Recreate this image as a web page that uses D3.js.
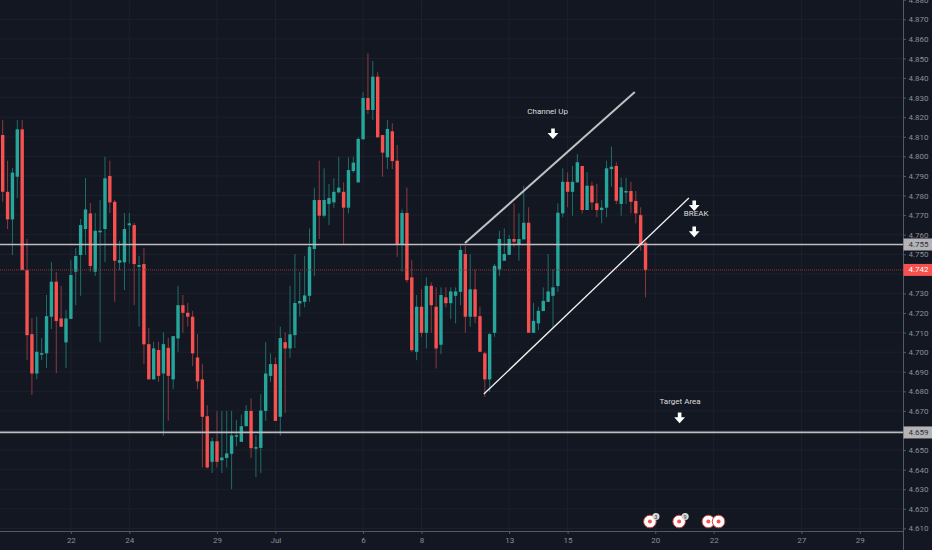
<!DOCTYPE html>
<html>
<head>
<meta charset="utf-8">
<script src="https://cdn.jsdelivr.net/npm/d3@7"></script>
<style>
	html, body { margin: 0; padding: 0; background: #131722; overflow: hidden; }
	text { font-family: Roboto, "Open Sans", sans-serif; }
</style>
</head>
<body>
<div id="chart"></div>
<script>
// candle values, one entry per 4h bar
const upFlags = [
	0,0,1,1,0,0,0,1,1,1,
	1,0,0,1,1,1,1,1,0,1,
	1,1,0,0,1,1,1,0,1,0,
	0,1,0,1,0,1,1,0,0,0,
	0,0,0,1,0,1,1,1,1,1,
	1,0,1,1,1,1,0,1,0,1,
	1,1,1,1,1,0,1,1,1,1,
	0,1,1,1,1,0,1,0,0,1,
	0,0,1,0,0,1,0,1,0,0,
	1,0,1,1,1,0,1,0,0,0,
	1,1,1,1,1,0,1,1,0,1,
	1,1,1,1,1,1,0,1,1,0,
	1,0,0,1,1,1,0,1,1,0,
	0,0,0,
];
const highs = [
	4.8186,4.7978,4.7941,4.8186,4.8186,4.7578,4.7174,4.7181,4.7072,4.7292,
	4.7460,4.7409,4.7339,4.7215,4.7470,4.7532,4.7680,4.7889,4.7762,4.7711,
	4.7777,4.7998,4.7978,4.7777,4.7569,4.7711,4.7711,4.7660,4.7491,4.7532,
	4.7123,4.7053,4.7053,4.7102,4.7073,4.7082,4.7339,4.7292,4.7252,4.7211,
	4.7092,4.6939,4.6729,4.6564,4.6700,4.6700,4.6700,4.6700,4.6653,4.6682,
	4.6729,4.6764,4.6576,4.6786,4.7051,4.6994,4.6973,4.7130,4.7101,4.7339,
	4.7501,4.7411,4.7491,4.7632,4.7840,4.7978,4.7939,4.7859,4.7888,4.7998,
	4.7867,4.7995,4.7998,4.8097,4.8327,4.8527,4.8487,4.8430,4.8109,4.8186,
	4.8169,4.8058,4.7729,4.7840,4.7470,4.7292,4.7321,4.7382,4.7356,4.7331,
	4.7331,4.7331,4.7331,4.7331,4.7547,4.7542,4.7501,4.7423,4.7232,4.7002,
	4.7099,4.7450,4.7620,4.7632,4.7598,4.7760,4.7709,4.7850,4.7740,4.7252,
	4.7232,4.7331,4.7501,4.7424,4.7760,4.7939,4.7919,4.7951,4.8012,4.7951,
	4.7919,4.7870,4.7859,4.7777,4.7978,4.8050,4.7970,4.7891,4.7891,4.7870,
	4.7823,4.7740,4.7567,
];
const bodyTops = [
	4.8109,4.7819,4.7917,4.8138,4.8138,4.7419,4.7092,4.7002,4.6995,4.7184,
	4.7360,4.7360,4.7172,4.7172,4.7394,4.7491,4.7649,4.7729,4.7709,4.7620,
	4.7620,4.7888,4.7900,4.7768,4.7470,4.7629,4.7658,4.7649,4.7445,4.7450,
	4.7041,4.7019,4.7011,4.7041,4.7022,4.7082,4.7240,4.7240,4.7201,4.7181,
	4.6973,4.6861,4.6673,4.6545,4.6545,4.6462,4.6483,4.6575,4.6576,4.6622,
	4.6700,4.6700,4.6515,4.6702,4.6891,4.6939,4.6939,4.7072,4.7051,4.7091,
	4.7251,4.7261,4.7290,4.7538,4.7777,4.7777,4.7777,4.7787,4.7819,4.7840,
	4.7819,4.7930,4.7968,4.8089,4.8298,4.8298,4.8407,4.8407,4.8109,4.8140,
	4.8128,4.7978,4.7711,4.7711,4.7382,4.7232,4.7232,4.7339,4.7339,4.7232,
	4.7292,4.7280,4.7310,4.7310,4.7522,4.7501,4.7321,4.7321,4.7184,4.6994,
	4.7092,4.7441,4.7578,4.7501,4.7578,4.7578,4.7578,4.7661,4.7661,4.7160,
	4.7211,4.7262,4.7310,4.7331,4.7712,4.7870,4.7870,4.7870,4.7970,4.7951,
	4.7850,4.7850,4.7760,4.7738,4.7939,4.7947,4.7951,4.7842,4.7823,4.7823,
	4.7772,4.7700,4.7559,
];
const bodyBottoms = [
	4.7819,4.7678,4.7678,4.7896,4.7419,4.7087,4.6891,4.6891,4.6990,4.6994,
	4.7181,4.7159,4.7130,4.7050,4.7170,4.7411,4.7496,4.7629,4.7440,4.7411,
	4.7615,4.7629,4.7765,4.7467,4.7457,4.7459,4.7648,4.7450,4.7436,4.7040,
	4.6861,4.6861,4.6879,4.6891,4.6879,4.6861,4.7070,4.7201,4.7181,4.6994,
	4.6851,4.6670,4.6411,4.6440,4.6440,4.6448,4.6460,4.6481,4.6571,4.6542,
	4.6622,4.6510,4.6510,4.6511,4.6700,4.6879,4.6649,4.6670,4.7019,4.7019,
	4.7087,4.7249,4.7257,4.7288,4.7527,4.7697,4.7697,4.7757,4.7765,4.7816,
	4.7738,4.7738,4.7925,4.7867,4.8087,4.8237,4.8237,4.8097,4.8019,4.7995,
	4.7976,4.7552,4.7547,4.7368,4.7010,4.7002,4.7099,4.7099,4.7240,4.7019,
	4.7038,4.7250,4.7250,4.7288,4.7308,4.7181,4.7181,4.7181,4.7002,4.6861,
	4.6861,4.7099,4.7423,4.7467,4.7497,4.7564,4.7549,4.7576,4.7099,4.7099,
	4.7147,4.7210,4.7257,4.7288,4.7338,4.7709,4.7819,4.7819,4.7867,4.7726,
	4.7726,4.7765,4.7726,4.7726,4.7738,4.7935,4.7773,4.7757,4.7818,4.7768,
	4.7709,4.7547,4.7419,
];
const lows = [
	4.7768,4.7629,4.7496,4.7787,4.7419,4.6959,4.6781,4.6862,4.6959,4.6919,
	4.7118,4.6893,4.7130,4.6920,4.7170,4.7240,4.7288,4.7496,4.7411,4.7389,
	4.7051,4.7460,4.7711,4.7257,4.7419,4.7317,4.7453,4.7240,4.7130,4.6939,
	4.6861,4.6861,4.6848,4.6573,4.6650,4.6811,4.7002,4.7099,4.7130,4.6929,
	4.6811,4.6411,4.6406,4.6383,4.6411,4.6383,4.6411,4.6300,4.6520,4.6542,
	4.6622,4.6460,4.6363,4.6383,4.6649,4.6848,4.6649,4.6573,4.6690,4.6971,
	4.7021,4.7181,4.7229,4.7257,4.7389,4.7578,4.7687,4.7649,4.7738,4.7811,
	4.7547,4.7709,4.7917,4.7867,4.8087,4.8216,4.8186,4.8097,4.7896,4.7935,
	4.7935,4.7487,4.7411,4.7356,4.7002,4.6959,4.7078,4.7019,4.7099,4.6917,
	4.6990,4.7229,4.7169,4.7147,4.7240,4.7099,4.7130,4.7147,4.7002,4.6772,
	4.6797,4.7078,4.7389,4.7467,4.7497,4.7538,4.7467,4.7576,4.7099,4.7099,
	4.7113,4.7210,4.7257,4.7130,4.7308,4.7689,4.7740,4.7697,4.7867,4.7709,
	4.7726,4.7726,4.7689,4.7658,4.7689,4.7845,4.7757,4.7697,4.7757,4.7709,
	4.7658,4.7518,4.7280,
];

// axis labels
const priceTicks = [4.61,4.62,4.63,4.64,4.65,4.66,4.67,4.68,4.69,4.70,4.71,4.72,4.73,4.74,4.75,4.76,4.77,4.78,4.79,4.80,4.81,4.82,4.83,4.84,4.85,4.86,4.87,4.88];
const hiddenPriceLabels = [4.66, 4.74]; // these sit right under the price tags
const timeTicks = [14,26,44,56,74,86,104,116,134,146,164,176];
const timeLabels = ["22","24","29","Jul","6","8","13","15","20","22","27","29"];

// drawings on the chart
const levels = [4.755, 4.659];
const lastPrice = 4.742;
const channelTop = [[94.93, 4.7557], [129.8, 4.8329]];
const channelBottom = [[98.8, 4.6786], [140.9, 4.7787]];
const notes = [
	{ text: "Channel Up", bar: 111.9, price: 4.8227 },
	{ text: "BREAK", bar: 142.4, price: 4.7705 },
	{ text: "Target Area", bar: 139.1, price: 4.6745 },
];
const arrows = [[113, 4.8114], [142, 4.7746], [142, 4.7613], [139, 4.6663]];
const eventBars = [132.9, 138.9, 144.9, 147];
const eventBadges = [[0, "3"], [1, "9"]];

const width = 932, height = 550;
const axisX = 903.5, axisY = 531.5;
const bg = "#131722", green = "#26a69a", red = "#f6504f";

const x = d3.scaleLinear().domain([0, 176]).range([2.7, 859.8]);
const y = d3.scaleLinear().domain([4.61, 4.87]).range([528.4, 19.3]);

const svg = d3.select("#chart").append("svg")
	.attr("width", width).attr("height", height)
	.style("display", "block").style("background", bg);

// grid
svg.append("g").selectAll("line").data(priceTicks).join("line")
	.attr("x1", 0).attr("x2", axisX)
	.attr("y1", d => y(d)).attr("y2", d => y(d))
	.attr("stroke", "#1d212d").attr("stroke-width", 1);
svg.append("g").selectAll("line").data(timeTicks).join("line")
	.attr("x1", d => x(d)).attr("x2", d => x(d))
	.attr("y1", 0).attr("y2", axisY)
	.attr("stroke", "#1d212d").attr("stroke-width", 1);

// candles
const candles = svg.append("g").selectAll("g").data(upFlags).join("g");
candles.append("line")
	.attr("x1", (d, i) => x(i)).attr("x2", (d, i) => x(i))
	.attr("y1", (d, i) => y(highs[i])).attr("y2", (d, i) => y(lows[i]))
	.attr("stroke", d => d ? "#1e6e69" : "#8a3a3d").attr("stroke-width", 1);
candles.append("rect")
	.attr("x", (d, i) => x(i) - 1.7).attr("width", 3.4)
	.attr("y", (d, i) => y(bodyTops[i]))
	.attr("height", (d, i) => Math.max(1.5, y(bodyBottoms[i]) - y(bodyTops[i])))
	.attr("fill", d => d ? green : red);

// last price line
svg.append("line")
	.attr("x1", 0).attr("x2", axisX)
	.attr("y1", y(lastPrice)).attr("y2", y(lastPrice))
	.attr("stroke", "#8a3a3d").attr("stroke-width", 1).attr("stroke-dasharray", "1,1");

// horizontal levels
svg.append("g").selectAll("line").data(levels).join("line")
	.attr("x1", 0).attr("x2", axisX)
	.attr("y1", d => y(d)).attr("y2", d => y(d))
	.attr("stroke", "#bdbdbf").attr("stroke-width", 1.7);

// channel lines
const trend = d3.line().x(d => x(d[0])).y(d => y(d[1]));
svg.append("path").attr("d", trend(channelTop)).attr("fill", "none")
	.attr("stroke", "#c0c0c2").attr("stroke-width", 2);
svg.append("path").attr("d", trend(channelBottom)).attr("fill", "none")
	.attr("stroke", "#f2f2f2").attr("stroke-width", 1.3);

// notes and arrows
svg.append("g").selectAll("text").data(notes).join("text")
	.attr("x", d => x(d.bar)).attr("y", d => y(d.price))
	.attr("text-anchor", "middle").attr("dominant-baseline", "middle")
	.attr("font-size", 8).attr("fill", "#dcdcdc")
	.text(d => d.text);
const arrowPath = "M-1.8,-5.6 L1.8,-5.6 L1.8,-1 L5.4,-1 L0,5 L-5.4,-1 L-1.8,-1 Z";
svg.append("g").selectAll("path").data(arrows).join("path")
	.attr("d", arrowPath)
	.attr("transform", d => `translate(${x(d[0])},${y(d[1])})`)
	.attr("fill", "#ffffff");

// earnings style markers along the bottom
const eventY = axisY - 10;
const events = svg.append("g").selectAll("g").data(eventBars).join("g")
	.attr("transform", d => `translate(${x(d)},${eventY})`);
events.append("circle").attr("r", 6.3).attr("fill", "#ffffff").attr("stroke", "#c8403f").attr("stroke-width", 1);
events.append("circle").attr("r", 2).attr("fill", "#f6504f");
const badges = svg.append("g").selectAll("g").data(eventBadges).join("g")
	.attr("transform", d => `translate(${x(eventBars[d[0]]) + 6},${eventY - 5})`);
badges.append("circle").attr("r", 3.6).attr("fill", "#d8d8d8");
badges.append("text").attr("text-anchor", "middle").attr("dominant-baseline", "central")
	.attr("font-size", 5.5).attr("fill", "#333").text(d => d[1]);

// axes
const yAxis = d3.axisRight(y).tickValues(priceTicks)
	.tickFormat(d => hiddenPriceLabels.includes(d) ? "" : d3.format(".3f")(d))
	.tickSize(2.5).tickPadding(2.5);
const xAxis = d3.axisBottom(x).tickValues(timeTicks).tickFormat((d, i) => timeLabels[i]).tickSize(2.5).tickPadding(3.5);

const yG = svg.append("g").attr("transform", `translate(${axisX},0)`).call(yAxis);
const xG = svg.append("g").attr("transform", `translate(0,${axisY})`).call(xAxis);
yG.select(".domain").remove();
xG.select(".domain").remove();
svg.append("line").attr("x1", axisX).attr("x2", axisX).attr("y1", 0).attr("y2", height).attr("stroke", "#555964");
svg.append("line").attr("x1", 0).attr("x2", axisX).attr("y1", axisY).attr("y2", axisY).attr("stroke", "#555964");
[yG, xG].forEach(g => {
	g.selectAll("line").attr("stroke", "#555964");
	g.selectAll("text").attr("fill", "#8b8e99").attr("font-size", 8).style("font-family", "Roboto, sans-serif");
});

// price tags on the axis
const tags = [
	{ price: levels[0], fill: "#b4b4b6", color: "#2c2f38" },
	{ price: levels[1], fill: "#b4b4b6", color: "#2c2f38" },
	{ price: lastPrice, fill: red, color: "#ffffff" },
];
const tagG = svg.append("g").selectAll("g").data(tags).join("g")
	.attr("transform", d => `translate(${axisX},${y(d.price)})`);
tagG.append("rect").attr("x", 0).attr("y", -6).attr("width", width - axisX).attr("height", 12).attr("fill", d => d.fill);
tagG.append("text").attr("x", 5).attr("dominant-baseline", "central")
	.attr("font-size", 8).attr("fill", d => d.color)
	.text(d => d3.format(".3f")(d.price));
</script>
</body>
</html>
